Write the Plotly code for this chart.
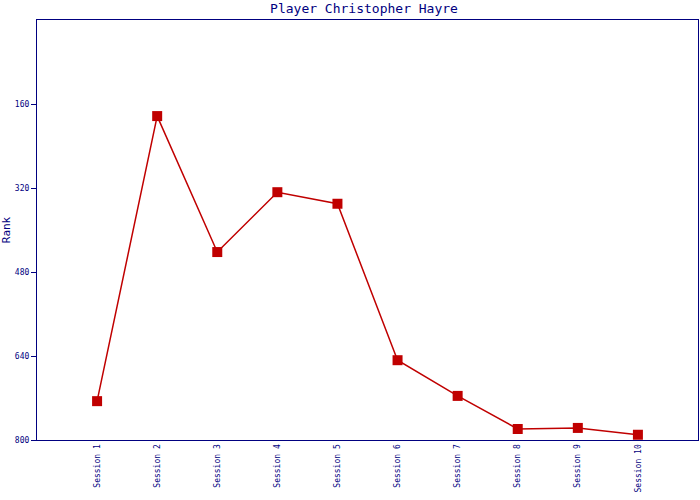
import plotly.graph_objects as go

sessions = ["Session %d" % i for i in range(1, 11)]
ranks = [726, 183, 442, 328, 350, 648, 716, 779, 777, 790]

navy = "#000080"
red = "#c00000"
font = "DejaVu Sans Mono"

fig = go.Figure(go.Scatter(
    x=sessions, y=ranks, mode="lines+markers",
    line=dict(color=red, width=1.5),
    marker=dict(symbol="square", size=10, color=red),
))

fig.update_layout(
    width=700, height=500,
    margin=dict(l=37, r=2, t=20, b=60, autoexpand=False),
    paper_bgcolor="white", plot_bgcolor="white",
    showlegend=False,
    title=dict(text="Player Christopher Hayre", x=0.52, xanchor="center",
               y=0.984, yanchor="middle",
               font=dict(family=font, size=13, color=navy)),
    font=dict(family=font, color=navy),
)
fig.update_xaxes(
    type="category", range=[-1, 10], showgrid=False, automargin=False,
    showline=True, linecolor=navy, linewidth=1.2, mirror=True,
    ticks="", tickangle=-90, tickfont=dict(family=font, size=8, color=navy),
)
fig.update_yaxes(
    range=[800, 0], tickvals=[160, 320, 480, 640, 800], showgrid=False, zeroline=False,
    automargin=False,
    showline=True, linecolor=navy, linewidth=1.2, mirror=True,
    ticks="outside", ticklen=5, tickcolor=navy, tickwidth=1.2,
    tickfont=dict(family=font, size=8, color=navy),
    title=dict(text="Rank", font=dict(family=font, size=11, color=navy), standoff=2),
)

fig.write_html("out.html", config={"displayModeBar": False},
               post_script="document.body.style.margin='0';")
